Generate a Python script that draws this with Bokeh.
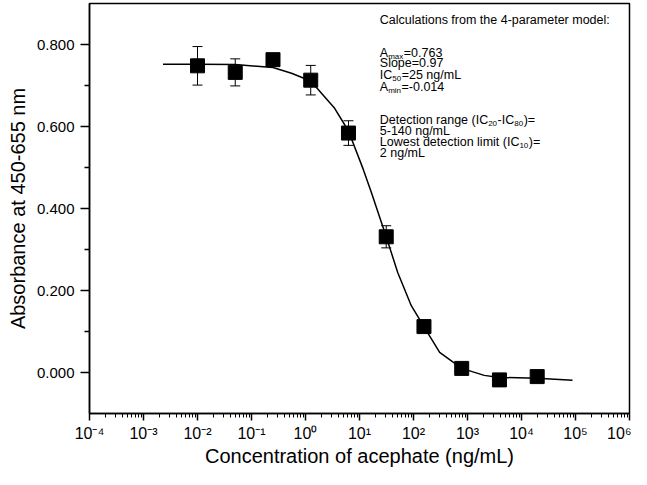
from bokeh.plotting import figure
from bokeh.models import (ColumnDataSource, Whisker, TeeHead, Label, FixedTicker,
                          CustomJSTickFormatter, PrintfTickFormatter, Range1d)
from bokeh.embed import file_html
from bokeh.resources import INLINE

# ---------------- data ----------------
conc = [0.01, 0.05, 0.25, 1.25, 6.25, 31.25, 156.25, 781.25, 3906.25, 19531.25]
absorbance = [0.748, 0.732, 0.763, 0.713, 0.584, 0.331, 0.112, 0.010, -0.018, -0.010]
abs_err = [0.047, 0.033, 0.008, 0.036, 0.030, 0.027, 0.008, 0.005, 0.005, 0.005]

fit_x = [0.0023, 0.01, 0.05, 0.25, 0.55, 1.25, 3.4, 6.25, 11.7, 16.6, 31.25, 51, 91, 156,
         305, 781, 2040, 3906, 19531, 88000]
fit_y = [0.752, 0.752, 0.751, 0.744, 0.730, 0.711, 0.646, 0.589, 0.496, 0.439, 0.331, 0.244,
         0.163, 0.112, 0.049, 0.010, -0.007, -0.012, -0.014, -0.019]

x_tick_exponents = [-4, -3, -2, -1, 0, 1, 2, 3, 4, 5, 6]
x_tick_labels = ["10\u207b\u2074", "10\u207b\u00b3", "10\u207b\u00b2", "10\u207b\u00b9", "10\u2070",
                 "10\u00b9", "10\u00b2", "10\u00b3", "10\u2074", "10\u2075", "10\u2076"]
y_ticks = [0.0, 0.2, 0.4, 0.6, 0.8]
y_minor_ticks = [0.1, 0.3, 0.5, 0.7]

x_title = "Concentration of acephate (ng/mL)"
y_title = "Absorbance at 450-655 nm"

# annotation lines: list of (text, is_subscript) pieces
note_lines = [
    [("Calculations from the 4-parameter model:", False)],
    [("A", False), ("max", True), ("=0.763", False)],
    [("Slope=0.97", False)],
    [("IC", False), ("50", True), ("=25 ng/mL", False)],
    [("A", False), ("min", True), ("=-0.014", False)],
    [("Detection range (IC", False), ("20", True), ("-IC", False), ("80", True), (")=", False)],
    [("5-140 ng/mL", False)],
    [("Lowest detection limit (IC", False), ("10", True), (")=", False)],
    [("2 ng/mL", False)],
]
note_baselines_ref = [27.3, 60.0, 70.7, 82.7, 94.0, 127.3, 138.3, 149.3, 160.7]

# ---------------- figure ----------------
W, H = 631, 469
FONT = "Liberation Sans"
# reference pixel of frame's left / bottom edges (screen-unit labels are frame-relative)
FL, FB = 97, 421


def sx(ref_x):
    return ref_x - FL


def sy(ref_y):
    return FB - ref_y


p = figure(width=W, height=H, x_axis_type="log",
           x_range=Range1d(1e-4, 1e6), y_range=Range1d(-0.1, 0.9),
           output_backend="svg", toolbar_location=None,
           min_border_left=89, min_border_right=2, min_border_top=3, min_border_bottom=56)
p.xgrid.visible = False
p.ygrid.visible = False
p.background_fill_color = "white"
p.border_fill_color = "white"
p.outline_line_color = "black"
p.outline_line_width = 1.5
p.outline_line_alpha = 1.0

# x axis
xa = p.xaxis[0]
xa.ticker = FixedTicker(ticks=[10.0 ** e for e in x_tick_exponents],
                        minor_ticks=[m * 10.0 ** e for e in x_tick_exponents[:-1] for m in range(2, 10)])
xa.formatter = CustomJSTickFormatter(
    args=dict(labels=x_tick_labels, first=x_tick_exponents[0]),
    code="const i = Math.round(Math.log10(tick)) - first; return (i >= 0 && i < labels.length) ? labels[i] : '';")
xa.axis_line_width = 1.5
xa.major_tick_line_width = 1.5
xa.minor_tick_line_width = 1
xa.major_tick_in = 0
xa.major_tick_out = 7
xa.minor_tick_in = 0
xa.minor_tick_out = 4
xa.major_label_standoff = 4
xa.major_label_text_font = FONT
xa.major_label_text_font_size = "16px"
xa.major_label_text_color = "black"
xa.axis_label = x_title
xa.axis_label_text_font = FONT
xa.axis_label_text_font_size = "20px"
xa.axis_label_text_font_style = "normal"
xa.axis_label_text_color = "black"
xa.axis_label_standoff = 0

# y axis
ya = p.yaxis[0]
ya.ticker = FixedTicker(ticks=y_ticks, minor_ticks=y_minor_ticks)
ya.formatter = PrintfTickFormatter(format="%.3f")
ya.axis_line_width = 1.5
ya.major_tick_line_width = 1.5
ya.minor_tick_line_width = 1.5
ya.major_tick_in = 0
ya.major_tick_out = 9
ya.minor_tick_in = 0
ya.minor_tick_out = 5
ya.major_label_standoff = 6
ya.major_label_text_font = FONT
ya.major_label_text_font_size = "15px"
ya.major_label_text_color = "black"
ya.axis_label = y_title
ya.axis_label_text_font = FONT
ya.axis_label_text_font_size = "20px"
ya.axis_label_text_font_style = "normal"
ya.axis_label_text_color = "black"
ya.axis_label_standoff = 5

# fitted curve
p.line(fit_x, fit_y, line_color="black", line_width=1.5)

# error bars
src = ColumnDataSource(dict(x=conc, y=absorbance,
                            lo=[a - e for a, e in zip(absorbance, abs_err)],
                            hi=[a + e for a, e in zip(absorbance, abs_err)]))
wh = Whisker(base="x", lower="lo", upper="hi", source=src, dimension="height",
             line_color="black", line_width=1,
             lower_head=TeeHead(size=10, line_color="black", line_width=1),
             upper_head=TeeHead(size=10, line_color="black", line_width=1),
             level="underlay")
p.add_layout(wh)

# data markers
p.scatter("x", "y", source=src, marker="square", size=14, fill_color="black", line_color="black")

# annotation text block with subscripts
ARIAL_W = {'A': 667, 'I': 278, 'C': 722, 'D': 722, 'L': 556, 'S': 667, '=': 584, '.': 278, '-': 333,
           '(': 333, ')': 333, '/': 278, ' ': 278, ':': 278, 'm': 833, 'a': 556, 'x': 500, 'i': 222,
           'n': 556, 'e': 556, 't': 278, 'c': 500, 'o': 556, 'r': 333, 'g': 556, 'w': 722, 's': 500,
           'd': 556, 'l': 222, 'p': 556, 'h': 556, 'f': 278, 'u': 556}
for ch in "0123456789":
    ARIAL_W[ch] = 556


def text_width(s, size):
    return sum(ARIAL_W.get(c, 556) for c in s) * size / 1000.0


MAIN, SUB = 12.5, 8
for pieces, base_ref in zip(note_lines, note_baselines_ref):
    x = 387.3
    for txt, is_sub in pieces:
        size = SUB if is_sub else MAIN
        yb = base_ref + (3.5 if is_sub else 0.0)
        p.add_layout(Label(x=sx(x), y=sy(yb), x_units="screen", y_units="screen", text=txt,
                           text_font=FONT, text_font_size=f"{size}px", text_color="black",
                           text_align="left", text_baseline="alphabetic"))
        x += text_width(txt, size) + (0.5 if is_sub else 0.0)

open("out.html", "w").write(file_html(p, INLINE))
